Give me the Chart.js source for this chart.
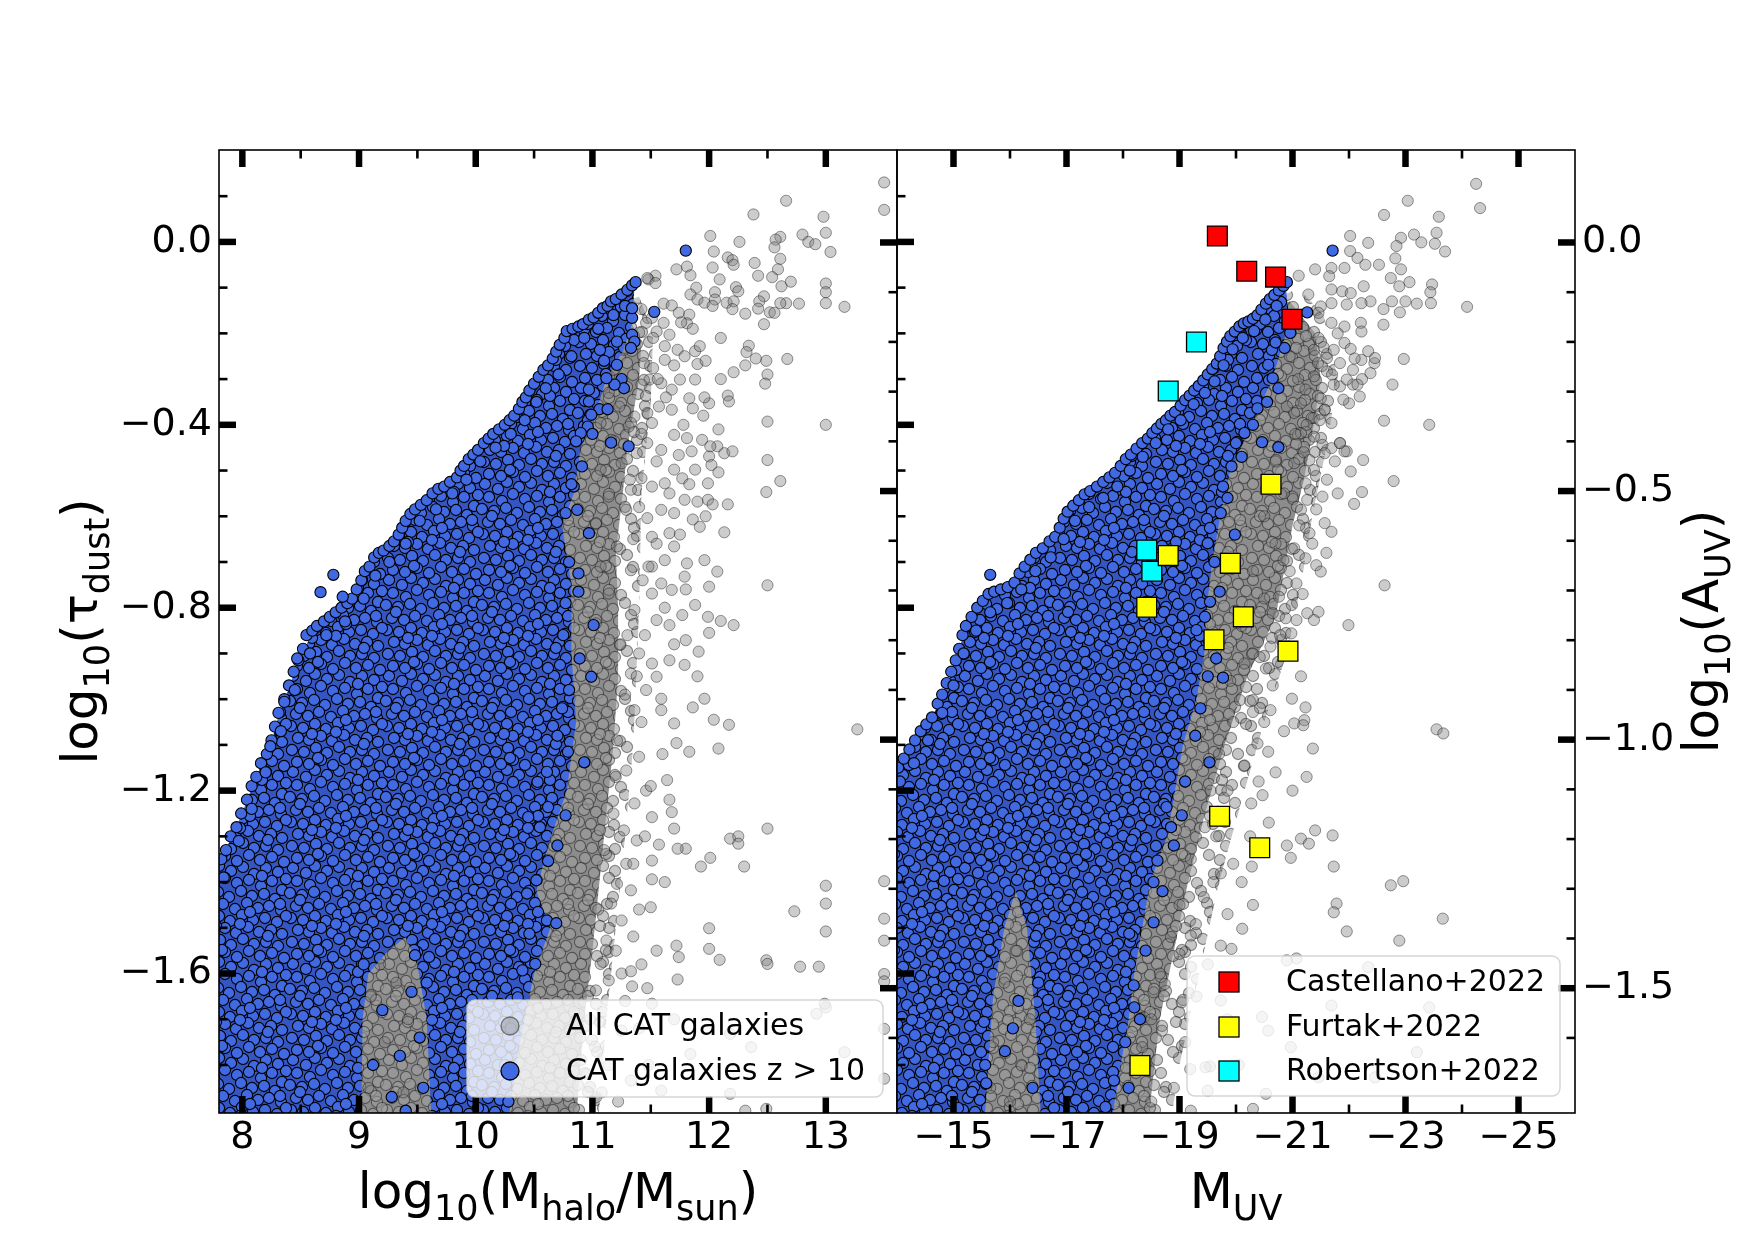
<!DOCTYPE html>
<html>
<head>
<meta charset="utf-8">
<script src="https://cdn.jsdelivr.net/npm/chart.js@4.4.1/dist/chart.umd.min.js"></script>
<style>
  html, body { margin: 0; padding: 0; background: #fff; }
  #wrap { position: relative; width: 1750px; height: 1250px; }
  #wrap canvas { position: absolute; left: 0; top: 0; }
</style>
</head>
<body>
<div id="wrap">
  <canvas id="halo" width="1750" height="1250"></canvas>
  <canvas id="muv" width="1750" height="1250"></canvas>
</div>
<script>
// ---- tick values ----
const haloTicks = [8, 9, 10, 11, 12, 13];
const haloMinor = [8.5, 9.5, 10.5, 11.5, 12.5];
const muvTicks = [-15, -17, -19, -21, -23, -25];
const muvMinor = [-16, -18, -20, -22, -24];
const tauTicks = [0, -0.4, -0.8, -1.2, -1.6];
const tauMinor = [0.1, -0.1, -0.2, -0.3, -0.5, -0.6, -0.7, -0.9, -1.0, -1.1, -1.3, -1.4, -1.5, -1.7, -1.8];
const auvTicks = [0, -0.5, -1.0, -1.5];
const auvMinor = [-0.1, -0.2, -0.3, -0.4, -0.6, -0.7, -0.8, -0.9, -1.1, -1.2, -1.3, -1.4, -1.6];

// ---- observations (flat x,y pairs) ----
// left panel: log10(Mhalo) vs log10(tau_dust)
// outline of the packed mass of z>10 points (too dense to read one by one)
const haloBlueCore = [7.78,-1.375, 7.90,-1.305, 7.99,-1.255, 8.08,-1.195, 8.16,-1.145, 8.25,-1.095, 8.31,-1.035, 8.36,-1.005, 8.44,-0.945, 8.52,-0.895, 8.60,-0.855, 8.75,-0.825, 8.85,-0.805, 8.94,-0.785, 9.02,-0.745, 9.09,-0.715, 9.17,-0.685, 9.26,-0.67, 9.34,-0.645, 9.40,-0.615,
  9.48,-0.59, 9.58,-0.57, 9.68,-0.545, 9.78,-0.53, 9.84,-0.52, 9.90,-0.495, 9.98,-0.47, 10.07,-0.445, 10.15,-0.425, 10.25,-0.405, 10.33,-0.385, 10.40,-0.355, 10.46,-0.33, 10.54,-0.30, 10.62,-0.275, 10.69,-0.245, 10.76,-0.215, 10.83,-0.195, 10.97,-0.175, 11.09,-0.15, 11.20,-0.13, 11.30,-0.11, 11.36,-0.10,
  11.34,-0.18, 11.26,-0.24, 11.12,-0.30, 11.02,-0.38, 10.90,-0.45, 10.84,-0.55, 10.74,-0.62, 10.82,-0.75, 10.82,-0.90, 10.86,-1.05, 10.78,-1.20, 10.62,-1.32, 10.52,-1.42, 10.64,-1.50, 10.50,-1.60, 10.38,-1.75, 10.28,-1.92,
  9.62,-1.92, 9.58,-1.70, 9.50,-1.58, 9.40,-1.52, 9.25,-1.55, 9.08,-1.60, 9.03,-1.70, 9.02,-1.92, 7.78,-1.92];
// outline of the packed mass of grey points, and of the looser grey fringe around it
const haloGrayCore = [11.30,-0.16, 11.42,-0.22, 11.40,-0.30, 11.30,-0.45, 11.26,-0.55, 11.20,-0.68, 11.22,-0.80, 11.22,-0.95, 11.18,-1.10, 11.12,-1.25, 11.06,-1.40, 11.00,-1.55, 10.93,-1.70, 10.86,-1.92, 8.95,-1.92, 8.95,-1.50, 9.50,-1.20, 10.20,-0.70, 10.80,-0.25];
const haloGrayMid = [11.40,-0.12, 11.52,-0.20, 11.50,-0.35, 11.42,-0.55, 11.40,-0.80, 11.35,-1.10, 11.28,-1.30, 11.20,-1.50, 11.12,-1.70, 11.05,-1.92, 10.60,-1.92, 10.60,-0.30, 11.00,-0.15];

const haloGrayPts = [
  13.50,0.13, 13.50,0.07, 12.66,0.09, 12.38,0.06, 12.98,0.055, 12.01,0.013, 12.26,0.0, 12.80,0.016, 12.61,0.011, 12.57,0.005, 12.85,0.0, 12.91,-0.005, 13.0,0.02, 13.04,-0.022, 12.04,-0.021, 12.16,-0.034, 12.2,-0.04, 12.21,-0.05, 12.56,-0.012, 12.61,-0.037,
  11.81,-0.054, 11.72,-0.06, 11.84,-0.073, 12.03,-0.056, 12.39,-0.046, 12.42,-0.074, 12.59,-0.06, 12.09,-0.082, 11.54,-0.074, 11.48,-0.082, 12.54,-0.077, 12.70,-0.087, 12.62,-0.097, 13.0,-0.091, 13.0,-0.11, 13.0,-0.134, 13.16,-0.142, 12.77,-0.135, 12.66,-0.134, 12.61,-0.134,
  12.47,-0.119, 12.43,-0.13, 12.42,-0.146, 12.52,-0.154, 12.56,-0.155, 11.89,-0.10, 11.84,-0.115, 11.90,-0.126, 11.96,-0.133, 12.05,-0.11, 12.05,-0.126, 12.03,-0.14, 12.15,-0.133, 12.21,-0.13, 12.20,-0.147, 12.23,-0.099, 12.25,-0.108, 12.31,-0.157, 12.47,-0.18, 12.49,-0.26,
  12.50,-0.29, 12.48,-0.31, 12.67,-0.256, 12.50,-0.393, 13.0,-0.40, 12.50,-0.477, 12.61,-0.523, 12.49,-0.547, 12.34,-0.227, 12.32,-0.241, 12.40,-0.255, 12.31,-0.27, 12.21,-0.285, 12.10,-0.30, 12.16,-0.336, 12.17,-0.349, 12.0,-0.353, 11.96,-0.34, 12.13,-0.462, 12.20,-0.458,
  12.07,-0.447, 12.0,-0.469, 12.02,-0.488, 12.08,-0.504, 11.99,-0.528, 11.99,-0.564, 11.9,-0.568, 12.03,-0.574, 12.16,-0.574, 12.13,-0.635, 12.07,-0.721, 12.0,-0.754, 12.50,-0.751,
  11.47,-0.079, 11.54,-0.09, 11.61,-0.135, 11.68,-0.139, 11.74,-0.155, 11.83,-0.159, 11.81,-0.178, 11.76,-0.176, 11.61,-0.177, 11.51,-0.166, 11.42,-0.147, 11.46,-0.177, 11.40,-0.198, 11.55,-0.196, 11.66,-0.203, 11.62,-0.228, 11.73,-0.236, 11.79,-0.25, 11.88,-0.239, 11.92,-0.228,
  11.90,-0.267, 11.62,-0.258, 11.52,-0.276, 11.44,-0.265, 11.49,-0.301, 11.42,-0.312, 11.59,-0.309, 11.68,-0.323, 11.75,-0.301, 11.88,-0.301, 11.83,-0.342, 11.86,-0.364, 11.68,-0.367, 11.57,-0.36, 11.47,-0.374, 11.36,-0.382, 11.31,-0.404, 11.51,-0.396, 11.70,-0.422, 11.81,-0.429,
  11.94,-0.433, 12.01,-0.447, 11.59,-0.455, 11.47,-0.44, 11.38,-0.462, 11.74,-0.466, 11.85,-0.458, 11.88,-0.498, 11.77,-0.517, 11.70,-0.498, 11.62,-0.528, 11.51,-0.535, 11.42,-0.517, 11.33,-0.542, 11.79,-0.564, 11.70,-0.593, 11.59,-0.586, 11.47,-0.604, 11.86,-0.607, 11.92,-0.623,
  11.66,-0.637, 11.51,-0.645, 11.70,-0.666, 11.62,-0.696, 11.81,-0.703, 11.96,-0.696, 11.51,-0.710, 11.79,-0.732, 11.59,-0.747, 11.68,-0.761, 11.51,-0.769, 11.88,-0.794, 11.99,-0.82, 12.10,-0.829, 12.21,-0.838, 11.77,-0.816, 11.66,-0.838, 11.55,-0.827,
  11.07,-0.25, 11.18,-0.28, 11.27,-0.236, 11.14,-0.33, 11.23,-0.36, 11.07,-0.396, 11.16,-0.433, 11.25,-0.484, 11.07,-0.498, 11.14,-0.557, 11.29,-0.586, 11.03,-0.615, 11.21,-0.666, 11.07,-0.71, 11.33,-0.718, 11.14,-0.769, 11.36,-0.805, 11.03,-0.834,
  11.21,-1.09, 11.36,-1.024, 11.46,-0.98, 11.33,-0.944, 11.51,-0.922, 11.55,-0.951, 11.40,-1.126, 11.29,-1.156, 11.46,-1.2, 11.36,-1.228, 11.27,-1.287, 11.38,-1.309, 11.29,-1.36, 11.21,-1.404, 11.33,-1.418, 11.16,-1.447, 11.25,-1.484, 11.12,-1.528, 11.2,-1.55, 11.07,-1.579,
  11.14,-1.615, 11.03,-1.637, 11.24,-0.88, 11.30,-0.86, 11.40,-0.90, 11.28,-0.99, 11.20,-1.17, 11.18,-1.25, 11.10,-1.33, 11.05,-1.46, 10.98,-1.70, 11.02,-1.76, 10.95,-1.82, 11.08,-1.86,
  11.52,-0.21, 11.70,-0.27, 11.86,-0.19, 11.97,-0.26, 12.10,-0.21, 11.63,-0.34, 11.78,-0.40, 11.95,-0.38, 12.08,-0.41, 11.42,-0.42, 11.55,-0.48, 11.66,-0.55, 11.83,-0.53, 11.97,-0.60, 11.40,-0.58, 11.55,-0.66, 11.75,-0.64, 11.43,-0.74, 11.62,-0.80, 11.80,-0.76,
  11.45,-0.86, 11.70,-0.88, 11.90,-0.95, 11.42,-1.05, 11.60,-1.12, 11.50,-1.19, 11.66,-1.22, 11.45,-1.30, 11.62,-1.40, 11.40,-1.46, 11.55,-1.55, 11.42,-1.58, 11.28,-1.66, 11.40,-1.72, 11.22,-1.88, 11.48,-1.80, 11.70,-1.70, 11.35,-0.65, 11.48,-0.71, 11.38,-0.95,
  11.35,-1.36, 11.25,-1.60, 11.32,-0.52, 11.56,-0.30,
  12.00,-0.855, 11.80,-0.871, 11.91,-0.896, 11.79,-0.925, 11.66,-0.915, 11.96,-0.999, 11.86,-1.018, 12.04,-1.045, 12.17,-1.056, 12.08,-1.108, 11.83,-1.115, 11.72,-1.096, 11.70,-1.053, 11.59,-1.024, 11.59,-0.999, 13.27,-1.066, 11.64,-1.177, 11.68,-1.247, 11.70,-1.283, 12.50,-1.283,
  12.18,-1.305, 12.25,-1.30, 12.25,-1.316, 12.01,-1.347, 11.93,-1.366, 12.30,-1.366, 11.80,-1.327, 11.73,-1.327, 11.57,-1.318, 11.51,-1.258, 11.51,-1.353, 13.50,-1.398, 13.0,-1.408, 13.0,-1.447, 13.0,-1.508, 12.73,-1.464, 13.50,-1.480, 13.50,-1.528, 12.0,-1.501, 12.0,-1.546,
  11.72,-1.539, 11.74,-1.564, 12.09,-1.570, 12.49,-1.571, 12.50,-1.579, 12.78,-1.585, 12.94,-1.585, 13.50,-1.601, 13.50,-1.617, 11.73,-1.613, 11.50,-1.455, 11.35,-1.519, 11.51,-1.394, 11.33,-1.595, 11.47,-1.632, 11.34,-1.628, 13.0,-1.674, 13.50,-1.721, 13.16,-1.772, 13.50,-1.830,
  12.49,-1.896, 12.31,-1.90, 11.59,-1.856, 12.18,-1.863, 12.36,-1.761, 12.92,-1.688, 12.99,-1.666, 11.51,-1.666, 11.84,-1.776, 11.25,-1.725, 11.14,-1.80, 11.33,-1.834, 11.03,-1.871, 12.18,-1.732,
  9.10,-1.65, 9.22,-1.75, 9.32,-1.62, 9.08,-1.85, 9.42,-1.70, 9.18,-1.58, 9.38,-1.86
];

const haloBluePts = [
  7.82,-1.35, 7.86,-1.33, 7.90,-1.30, 7.95,-1.28, 7.99,-1.25, 8.04,-1.22, 8.08,-1.19, 8.12,-1.17, 8.16,-1.14, 8.21,-1.12, 8.25,-1.09, 8.28,-1.06, 8.31,-1.03, 8.36,-1.00, 8.40,-0.97, 8.44,-0.94, 8.48,-0.915, 8.52,-0.89, 8.55,-0.86, 8.60,-0.85,
  8.64,-0.84, 8.70,-0.83, 8.75,-0.82, 8.80,-0.81, 8.85,-0.80, 8.90,-0.79, 8.94,-0.78, 8.98,-0.76, 9.02,-0.74, 9.05,-0.72, 9.09,-0.71, 9.13,-0.69, 9.17,-0.68, 9.21,-0.675, 9.26,-0.665, 9.30,-0.655, 9.34,-0.64, 9.37,-0.625, 9.40,-0.61, 9.44,-0.595,
  9.48,-0.585, 9.53,-0.575, 9.58,-0.565, 9.63,-0.55, 9.68,-0.54, 9.73,-0.535, 9.78,-0.525, 9.84,-0.515, 9.87,-0.50, 9.90,-0.49, 9.94,-0.475, 9.98,-0.465, 10.02,-0.455, 10.07,-0.44, 10.11,-0.43, 10.15,-0.42, 10.20,-0.41, 10.25,-0.40, 10.29,-0.39, 10.33,-0.38,
  10.37,-0.365, 10.40,-0.35, 10.43,-0.34, 10.46,-0.325, 10.50,-0.31, 10.54,-0.295, 10.58,-0.28, 10.62,-0.27, 10.66,-0.255, 10.69,-0.24, 10.72,-0.225, 10.76,-0.21, 10.78,-0.195, 10.83,-0.19, 10.88,-0.185, 10.92,-0.18, 10.97,-0.17, 11.01,-0.165, 11.05,-0.155, 11.09,-0.145,
  11.13,-0.14, 11.16,-0.13, 11.20,-0.125, 11.25,-0.115, 11.30,-0.105, 11.34,-0.095, 11.37,-0.088,
  11.80,-0.019, 8.78,-0.728, 8.67,-0.766, 8.86,-0.776, 8.47,-0.911, 8.36,-1.006, 8.24,-1.103,
  7.84,-1.39, 7.97,-1.31, 8.08,-1.24, 8.20,-1.16, 8.33,-1.07, 8.45,-0.98, 8.58,-0.90, 8.72,-0.86, 8.88,-0.83, 9.04,-0.78, 9.14,-0.73, 9.26,-0.70, 9.40,-0.66, 9.52,-0.61, 9.66,-0.585, 9.80,-0.55, 9.92,-0.52, 10.04,-0.48, 10.17,-0.45, 10.30,-0.42,
  10.42,-0.39, 10.52,-0.35, 10.60,-0.32, 10.71,-0.29, 10.82,-0.25, 10.93,-0.21, 11.05,-0.19, 11.18,-0.16, 11.28,-0.14,
  11.34,-0.166, 11.34,-0.145, 11.53,-0.153, 11.34,-0.203, 11.36,-0.218, 11.33,-0.232, 11.21,-0.218, 11.21,-0.269, 11.25,-0.30, 11.27,-0.32, 11.19,-0.312, 11.12,-0.298, 11.06,-0.366, 11.13,-0.366, 10.97,-0.323, 10.97,-0.349, 10.99,-0.378, 10.96,-0.404, 11.16,-0.439, 11.31,-0.447,
  10.90,-0.418, 10.86,-0.436, 10.91,-0.491, 10.84,-0.535, 10.87,-0.586, 10.77,-0.593, 10.97,-0.637, 10.88,-0.725, 10.88,-0.765, 10.77,-0.79, 11.01,-0.838, 10.89,-0.911, 10.99,-0.951, 10.74,-1.02, 10.79,-1.115, 10.93,-1.138, 10.61,-1.159, 10.53,-1.181, 10.62,-1.236, 10.77,-1.254,
  10.45,-1.258, 10.55,-1.28, 10.70,-1.32, 10.62,-1.354, 10.52,-1.396, 10.44,-1.425, 10.61,-1.484, 10.69,-1.49, 10.46,-1.513, 10.51,-1.579, 10.40,-1.593, 10.36,-1.652, 10.30,-1.72, 10.25,-1.80, 10.28,-1.88, 10.80,-0.70, 10.75,-0.86, 10.80,-0.98, 10.70,-1.08, 10.82,-0.53,
  11.00,-0.42, 11.10,-0.26,
  9.20,-1.68, 9.35,-1.78, 9.45,-1.64, 9.28,-1.87, 9.52,-1.74, 9.40,-1.90, 9.12,-1.80, 9.55,-1.85, 9.58,-1.62, 9.48,-1.56, 9.04,-1.58
];

// right panel: M_UV vs log10(tau_dust)
const muvBlueCore = [-13.95,-1.16, -14.12,-1.135, -14.32,-1.095, -14.52,-1.06, -14.72,-1.015, -14.88,-0.97, -15.04,-0.92, -15.16,-0.865, -15.32,-0.825, -15.52,-0.79, -15.72,-0.77, -15.96,-0.76, -16.08,-0.75, -16.26,-0.715, -16.46,-0.685, -16.70,-0.66, -16.88,-0.63, -17.02,-0.595, -17.22,-0.57, -17.42,-0.55,
  -17.65,-0.53, -17.86,-0.51, -18.05,-0.48, -18.24,-0.457, -18.44,-0.435, -18.60,-0.413, -18.76,-0.395, -18.92,-0.377, -19.10,-0.351, -19.26,-0.33, -19.42,-0.308, -19.58,-0.283, -19.72,-0.255, -19.84,-0.223, -19.98,-0.201, -20.14,-0.183, -20.30,-0.173, -20.45,-0.153, -20.60,-0.13, -20.76,-0.111, -20.88,-0.095,
  -20.94,-0.17, -20.84,-0.22, -20.64,-0.30, -20.28,-0.40, -19.90,-0.50, -19.72,-0.60, -19.58,-0.70, -19.48,-0.80, -19.44,-0.90, -19.30,-1.00, -19.06,-1.10, -18.92,-1.20, -18.78,-1.30, -18.48,-1.40, -18.34,-1.50, -18.20,-1.60, -18.10,-1.70, -17.96,-1.80, -17.80,-1.92,
  -16.55,-1.92, -16.45,-1.70, -16.30,-1.50, -16.10,-1.42, -15.90,-1.50, -15.70,-1.65, -15.55,-1.92, -13.95,-1.92];
const muvGrayCore = [-20.95,-0.13, -21.40,-0.20, -21.50,-0.30, -21.35,-0.42, -21.20,-0.52, -21.00,-0.62, -20.85,-0.72, -20.70,-0.82, -20.20,-0.95, -19.80,-1.10, -19.45,-1.25, -19.15,-1.40, -18.90,-1.55, -18.65,-1.70, -18.45,-1.92, -15.20,-1.92, -15.20,-1.40, -17.00,-0.80, -19.50,-0.40, -20.60,-0.15];
const muvGrayMid = [-21.10,-0.10, -21.55,-0.16, -21.80,-0.30, -21.60,-0.45, -21.35,-0.60, -21.15,-0.75, -20.90,-0.90, -20.50,-1.05, -20.15,-1.20, -19.70,-1.40, -19.35,-1.60, -19.00,-1.80, -18.85,-1.92, -17.50,-1.92, -17.50,-1.00, -19.50,-0.45, -20.80,-0.12];

const muvGrayPts = [
  -24.25,0.127, -24.32,0.074, -23.04,0.090, -22.62,0.059, -23.59,0.055, -23.55,0.020, -23.15,0.016, -22.92,0.009, -22.84,-0.009, -23.70,-0.021, -23.28,-0.001, -23.52,-0.004, -22.34,-0.002, -22.02,0.013, -22.02,-0.02, -22.15,-0.035, -22.29,-0.05, -22.82,-0.036, -22.92,-0.06, -22.53,-0.05,
  -23.07,-0.088, -22.89,-0.097, -22.74,-0.079, -23.47,-0.093, -23.44,-0.11, -24.09,-0.142, -23.45,-0.134, -23.2,-0.135, -23.0,-0.13, -22.76,-0.13, -22.9,-0.154, -22.61,-0.147, -22.61,-0.181, -22.97,-0.256, -22.77,-0.312, -22.62,-0.391, -23.42,-0.40, -22.79,-0.523, -22.23,-0.547, -22.09,-0.573,
  -22.63,-0.751, -22.03,-0.502, -22.25,-0.477, -21.84,-0.44, -21.96,-0.458, -21.69,-0.451, -21.57,-0.367, -21.38,-0.385, -22.0,-0.353, -22.19,-0.338, -22.23,-0.30, -22.38,-0.287, -22.07,-0.312, -21.84,-0.316, -22.45,-0.265,
  -21.40,-0.06, -21.11,-0.074, -21.69,-0.057, -21.65,-0.075, -21.92,-0.057, -21.69,-0.104, -21.88,-0.108, -22.03,-0.112, -22.26,-0.097, -22.38,-0.13, -22.22,-0.134, -21.96,-0.137, -21.69,-0.134, -21.5,-0.141, -21.46,-0.155, -21.69,-0.177, -21.92,-0.185, -22.21,-0.177, -22.22,-0.196, -21.92,-0.221,
  -21.73,-0.236, -21.46,-0.21, -21.38,-0.236, -21.61,-0.254, -22.03,-0.234, -22.34,-0.239, -22.46,-0.254, -22.22,-0.258, -21.84,-0.265, -21.61,-0.283, -21.38,-0.294, -21.73,-0.312, -21.96,-0.301, -22.07,-0.28, -22.15,-0.312, -21.23,-0.323, -21.15,-0.353, -21.5,-0.342, -21.57,-0.367, -21.69,-0.396,
  -21.34,-0.385, -21.03,-0.374, -21.15,-0.418, -21.38,-0.426, -21.53,-0.444, -21.84,-0.44, -21.92,-0.458, -21.57,-0.462, -21.30,-0.477, -21.03,-0.484, -21.38,-0.499, -21.61,-0.52, -21.23,-0.528, -21.0,-0.557, -21.26,-0.564, -21.15,-0.586, -21.53,-0.557, -21.57,-0.615, -21.69,-0.634, -21.30,-0.637,
  -21.03,-0.67, -20.84,-0.696, -21.23,-0.692, -21.42,-0.707, -21.5,-0.721, -21.07,-0.747, -20.76,-0.776, -20.99,-0.794, -20.65,-0.812, -20.88,-0.823, -21.07,-0.827, -21.26,-0.812, -21.46,-0.809, -21.99,-0.838, -21.38,-0.827,
  -20.98,-0.856, -20.61,-0.885, -20.42,-0.908, -20.15,-0.922, -20.53,-0.933, -20.30,-1.002, -21.21,-1.046, -20.99,-0.999, -21.23,-1.018, -20.61,-1.024, -21.03,-1.053, -21.19,-1.057, -21.36,-1.108, -20.57,-1.115, -20.38,-1.097, -20.30,-1.028, -20.07,-1.002, -20.15,-1.145, -20.47,-1.21, -20.27,-1.228,
  -23.55,-1.066, -23.67,-1.075, -21.40,-1.287, -21.71,-1.298, -21.15,-1.305, -21.29,-1.316, -20.97,-1.347, -21.73,-1.366, -22.74,-1.407, -22.96,-1.398, -21.78,-1.447, -21.73,-1.466, -23.66,-1.480, -21.96,-1.508, -22.89,-1.528, -20.11,-1.502, -19.73,-1.539, -19.92,-1.546, -20.28,-1.366, -19.73,-1.381,
  -19.43,-1.433, -19.29,-1.492, -19.20,-1.517, -19.0,-1.557, -18.74,-1.623, -19.04,-1.663,
  -22.34,-1.586, -21.69,-1.670, -23.42,-1.674, -20.97,-1.761, -20.57,-1.725, -21.46,-1.827, -22.46,-1.827, -23.2,-1.772, -20.46,-1.695, -19.73,-1.659, -19.54,-1.803, -20.53,-1.863, -18.54,-1.641, -18.37,-1.696, -18.34,-1.761, -18.69,-1.725, -19.19,-1.809, -19.46,-1.805, -19.50,-1.856, -20.30,-1.896,
  -20.90,-1.571, -21.07,-1.567,
  -20.95,-0.25, -21.10,-0.30, -20.90,-0.36, -21.05,-0.42, -20.70,-0.48, -20.85,-0.55, -20.50,-0.60, -20.70,-0.66, -20.30,-0.72, -20.50,-0.78, -20.10,-0.84, -20.30,-0.90, -19.90,-0.96, -19.95,-1.05, -19.70,-1.12, -19.55,-1.20, -19.45,-1.28, -19.20,-1.35, -19.00,-1.45, -18.85,-1.52,
  -18.65,-1.60, -18.50,-1.70, -18.40,-1.80, -18.50,-1.88, -19.85,-1.20, -19.65,-1.30, -19.60,-1.40,
  -21.28,-0.115, -21.55,-0.23, -21.80,-0.20, -22.10,-0.255, -21.70,-0.29, -21.45,-0.265, -21.90,-0.345, -21.25,-0.40, -21.48,-0.39, -21.75,-0.48, -21.20,-0.46, -21.42,-0.585, -21.80,-0.55, -21.12,-0.62, -21.35,-0.66, -21.60,-0.68, -20.95,-0.72, -21.18,-0.77, -20.78,-0.86, -20.95,-0.90,
  -21.15,-0.95, -20.65,-0.97, -20.85,-1.07, -20.50,-1.05, -20.70,-1.16, -20.40,-1.18, -20.58,-1.27, -20.25,-1.30, -20.10,-1.40, -19.95,-1.36, -19.85,-1.47, -20.30,-1.45, -19.50,-1.58, -19.30,-1.65, -19.10,-1.75, -19.85,-1.70, -18.90,-1.85, -19.20,-1.90, -20.05,-1.80, -21.25,-1.17,
  -21.00,-1.20, -20.90,-1.32,
  -15.70,-1.75, -15.90,-1.62, -16.10,-1.55, -16.20,-1.80, -16.00,-1.88, -16.35,-1.70, -15.65,-1.85
];

const muvBluePts = [
  -14.02,-1.15, -14.12,-1.13, -14.22,-1.11, -14.32,-1.09, -14.42,-1.07, -14.52,-1.055, -14.62,-1.04, -14.72,-1.01, -14.80,-0.99, -14.88,-0.965, -14.96,-0.94, -15.04,-0.915, -15.10,-0.89, -15.16,-0.86, -15.22,-0.84, -15.32,-0.82, -15.42,-0.80, -15.52,-0.785, -15.62,-0.77, -15.72,-0.765,
  -15.84,-0.76, -15.96,-0.755, -16.08,-0.745, -16.17,-0.725, -16.26,-0.71, -16.36,-0.695, -16.46,-0.68, -16.58,-0.67, -16.70,-0.655, -16.80,-0.645, -16.88,-0.625, -16.95,-0.605, -17.02,-0.59, -17.12,-0.577, -17.22,-0.565, -17.32,-0.552, -17.42,-0.545, -17.54,-0.535, -17.65,-0.525, -17.76,-0.515,
  -17.86,-0.505, -17.96,-0.49, -18.05,-0.475, -18.14,-0.465, -18.24,-0.452, -18.34,-0.44, -18.44,-0.43, -18.52,-0.418, -18.60,-0.408, -18.68,-0.398, -18.76,-0.39, -18.84,-0.38, -18.92,-0.372, -19.02,-0.358, -19.10,-0.346, -19.18,-0.336, -19.26,-0.325, -19.34,-0.315, -19.42,-0.303, -19.50,-0.29,
  -19.58,-0.278, -19.66,-0.266, -19.72,-0.25, -19.78,-0.232, -19.84,-0.218, -19.90,-0.206, -19.98,-0.196, -20.06,-0.185, -20.14,-0.178, -20.22,-0.174, -20.30,-0.168, -20.38,-0.16, -20.45,-0.148, -20.53,-0.135, -20.60,-0.125, -20.68,-0.116, -20.76,-0.106, -20.84,-0.096, -20.90,-0.088,
  -21.71,-0.019, -15.65,-0.728,
  -14.05,-1.18, -14.30,-1.14, -14.55,-1.09, -14.80,-1.03, -15.00,-0.97, -15.18,-0.90, -15.40,-0.85, -15.65,-0.81, -15.95,-0.79, -16.20,-0.76, -16.45,-0.72, -16.72,-0.69, -16.95,-0.65, -17.15,-0.61, -17.40,-0.58, -17.65,-0.56, -17.90,-0.535, -18.12,-0.50, -18.35,-0.47, -18.58,-0.44,
  -18.80,-0.41, -19.02,-0.39, -19.25,-0.355, -19.45,-0.33, -19.62,-0.305, -19.78,-0.27, -19.94,-0.235, -20.12,-0.21, -20.32,-0.195, -20.52,-0.17, -20.72,-0.14,
  -21.26,-0.154, -20.96,-0.199, -20.86,-0.232, -20.75,-0.32, -20.57,-0.269, -20.65,-0.298, -20.46,-0.438, -20.75,-0.449, -20.15,-0.418, -20.38,-0.364, -20.00,-0.44, -19.92,-0.491, -19.77,-0.535, -19.73,-0.593, -19.98,-0.64, -19.50,-0.659, -19.71,-0.765, -19.54,-0.787, -19.30,-0.849, -19.65,-0.911,
  -19.77,-0.953, -19.37,-1.02, -19.53,-1.138, -19.04,-1.254, -18.77,-1.236, -18.90,-1.32, -18.61,-1.353, -18.54,-1.40, -18.54,-1.488, -18.11,-1.513, -18.19,-1.626, -18.20,-1.674, -18.04,-1.75, -17.84,-1.834, -17.69,-1.892,
  -20.70,-0.22, -20.55,-0.35, -20.30,-0.40, -20.10,-0.47, -19.85,-0.56, -19.62,-0.70, -19.45,-0.82, -19.50,-0.95, -19.28,-1.08, -19.10,-1.18, -18.85,-1.28, -18.70,-1.42, -18.40,-1.55, -18.30,-1.70, -18.10,-1.85,
  -15.56,-1.80, -15.58,-1.84, -15.91,-1.77, -16.15,-1.66, -16.05,-1.72, -16.50,-1.62, -16.40,-1.85
];

// observed samples (M_UV, log10 tau)
const castellano = [-19.67,0.013, -20.19,-0.064, -20.70,-0.077, -20.99,-0.169];
const furtak = [-20.62,-0.530, -18.80,-0.686, -19.90,-0.703, -18.42,-0.799, -20.13,-0.820, -19.61,-0.870, -20.92,-0.895, -19.71,-1.256, -20.42,-1.325, -18.30,-1.801];
const robertson = [-19.30,-0.219, -18.80,-0.326, -18.42,-0.674, -18.51,-0.720];

// ---- style: layout of overlapping discs used to texture the packed regions ----
const tileSize = 96;
const tileDots = [[5,4],[18,9],[27,2],[39,7],[51,3],[62,10],[74,4],[86,8],[94,15],
  [9,17],[22,21],[33,14],[45,19],[57,16],[69,22],[80,17],[90,26],
  [2,29],[14,31],[26,28],[37,33],[49,27],[60,32],[72,30],[83,35],
  [8,42],[20,44],[31,40],[43,45],[55,39],[66,44],[77,42],[89,46],
  [3,54],[15,56],[27,52],[38,57],[50,51],[61,56],[73,54],[85,58],[94,52],
  [10,66],[21,68],[33,64],[44,69],[56,63],[67,68],[79,66],[90,70],
  [4,78],[16,80],[28,76],[39,81],[51,75],[62,80],[74,78],[86,82],
  [9,90],[21,92],[33,88],[45,93],[57,87],[68,92],[80,89],[92,94],
  [12,36],[48,60],[70,12],[30,86],[88,40],[58,48],[24,62],[76,72]];

const FONT = '"DejaVu Sans", sans-serif';
Chart.defaults.font.family = FONT;

function pts(a) {
  const out = [];
  for (let i = 0; i < a.length; i += 2) out.push({x: a[i], y: a[i + 1]});
  return out;
}
const minus = v => String(v).replace('-', '\u2212');

function discPattern(bg, fill, stroke, r, keep) {
  const S = tileSize, c = document.createElement('canvas');
  c.width = S; c.height = S;
  const g = c.getContext('2d');
  g.fillStyle = bg; g.fillRect(0, 0, S, S);
  g.lineWidth = 1.1; g.fillStyle = fill; g.strokeStyle = stroke;
  tileDots.forEach(([x, y], i) => {
    if (keep && !keep(i)) return;
    for (const dx of [-S, 0, S]) for (const dy of [-S, 0, S]) {
      const px = x + dx, py = y + dy;
      if (px < -r - 2 || px > S + r + 2 || py < -r - 2 || py > S + r + 2) continue;
      g.beginPath(); g.arc(px, py, r, 0, 2 * Math.PI); g.fill(); g.stroke();
    }
  });
  return g.createPattern(c, 'repeat');
}
const bluePattern = discPattern('#3556c0', '#4169E1', '#000', 5.6);
const grayPattern = discPattern('#8c8c8c', 'rgba(160,160,160,0.55)', 'rgba(35,35,35,0.55)', 5.6);
const grayLoosePattern = discPattern('#ffffff', 'rgba(128,128,128,0.45)', 'rgba(0,0,0,0.42)', 5.6, i => i % 3 !== 1);

function richText(ctx, parts, x, y, size, rot) {
  ctx.save();
  ctx.translate(x, y);
  if (rot) ctx.rotate(rot);
  const big = size + 'px ' + FONT, small = Math.round(size * 0.7) + 'px ' + FONT;
  let w = 0;
  for (const p of parts) { ctx.font = p[1] ? small : big; w += ctx.measureText(p[0]).width; }
  let cx = -w / 2;
  ctx.textAlign = 'left';
  ctx.textBaseline = 'alphabetic';
  ctx.fillStyle = '#000';
  for (const p of parts) {
    ctx.font = p[1] ? small : big;
    ctx.fillText(p[0], cx, p[1] ? size * 0.24 : 0);
    cx += ctx.measureText(p[0]).width;
  }
  ctx.restore();
}

function legendBox(ctx, x, y, w, h) {
  ctx.save();
  ctx.beginPath();
  ctx.roundRect(x, y, w, h, 8);
  ctx.fillStyle = 'rgba(255,255,255,0.8)';
  ctx.fill();
  ctx.strokeStyle = 'rgba(204,204,204,0.8)';
  ctx.lineWidth = 1.5;
  ctx.stroke();
  ctx.restore();
}

// inward ticks, spines, tick labels, titles, legend
function framePlugin(cfg) {
  return {
    id: 'frame',
    afterDraw(chart) {
      const ctx = chart.ctx, a = chart.chartArea;
      const xs = chart.scales.x, ys = chart.scales.y, as = chart.scales.auv;
      const line = (x1, y1, x2, y2, w) => {
        ctx.lineWidth = w; ctx.beginPath(); ctx.moveTo(x1, y1); ctx.lineTo(x2, y2); ctx.stroke();
      };
      ctx.save();
      ctx.strokeStyle = '#000';
      ctx.lineCap = 'butt';
      for (const v of cfg.xMajor) {
        const p = xs.getPixelForValue(v);
        line(p, a.top, p, a.top + 17, 6.5); line(p, a.bottom, p, a.bottom - 17, 6.5);
      }
      for (const v of cfg.xMinor) {
        const p = xs.getPixelForValue(v);
        line(p, a.top, p, a.top + 8.5, 2.6); line(p, a.bottom, p, a.bottom - 8.5, 2.6);
      }
      for (const v of tauTicks) { const p = ys.getPixelForValue(v); line(a.left, p, a.left + 17, p, 6.5); }
      for (const v of tauMinor) { const p = ys.getPixelForValue(v); line(a.left, p, a.left + 8.5, p, 2.6); }
      for (const v of auvTicks) { const p = as.getPixelForValue(v); line(a.right, p, a.right - 17, p, 6.5); }
      for (const v of auvMinor) { const p = as.getPixelForValue(v); line(a.right, p, a.right - 8.5, p, 2.6); }
      ctx.lineWidth = 1.6;
      ctx.strokeRect(a.left, a.top, a.right - a.left, a.bottom - a.top);

      ctx.fillStyle = '#000';
      ctx.font = '38px ' + FONT;
      ctx.textAlign = 'center';
      ctx.textBaseline = 'alphabetic';
      for (const v of cfg.xMajor) ctx.fillText(minus(v), xs.getPixelForValue(v), a.bottom + 35);
      ctx.textBaseline = 'middle';
      if (cfg.leftLabels) {
        ctx.textAlign = 'right';
        for (const v of tauTicks) ctx.fillText(minus(v.toFixed(1)), a.left - 7, ys.getPixelForValue(v));
      }
      if (cfg.rightLabels) {
        ctx.textAlign = 'left';
        for (const v of auvTicks) ctx.fillText(minus(v.toFixed(1)), a.right + 7, as.getPixelForValue(v));
      }
      const cxm = (a.left + a.right) / 2, cym = (a.top + a.bottom) / 2;
      richText(ctx, cfg.xTitle, cxm, 1208, 50, 0);
      if (cfg.yTitle) richText(ctx, cfg.yTitle, cfg.yTitleX, cym, 50, -Math.PI / 2);
      ctx.restore();
      cfg.legend(ctx);
    }
  };
}

const common = (xmin, xmax, rev, pad) => ({
  responsive: false,
  animation: false,
  devicePixelRatio: 1,
  events: [],
  layout: {padding: pad},
  plugins: {legend: {display: false}, tooltip: {enabled: false}},
  scales: {
    x: {type: 'linear', min: xmin, max: xmax, reverse: rev, display: false},
    y: {type: 'linear', min: -1.905, max: 0.201, display: false},
    auv: {type: 'linear', axis: 'y', position: 'right', min: -1.751, max: 0.186, display: false}
  }
});

const grayStyle = {backgroundColor: 'rgba(128,128,128,0.4)', borderColor: 'rgba(0,0,0,0.4)', borderWidth: 1, pointRadius: 5.6, clip: 0};
const blueStyle = {backgroundColor: '#4169E1', borderColor: '#000', borderWidth: 1.1, pointRadius: 5.6, clip: 0};
const coreStyle = c => ({type: 'line', fill: 'shape', backgroundColor: c, borderWidth: 0, pointRadius: 0, tension: 0, clip: 0});

new Chart(document.getElementById('halo'), {
  type: 'scatter',
  data: {datasets: [
    {...coreStyle(grayLoosePattern), data: pts(haloGrayMid), order: 6},
    {...coreStyle(grayPattern), data: pts(haloGrayCore), order: 5},
    {label: 'All CAT galaxies', ...grayStyle, data: pts(haloGrayPts), order: 4},
    {...coreStyle(bluePattern), data: pts(haloBlueCore), order: 3},
    {label: 'CAT galaxies z > 10', ...blueStyle, data: pts(haloBluePts), order: 2}
  ]},
  options: common(7.8, 13.61, false, {left: 219, top: 150, right: 1750 - 897, bottom: 1250 - 1113}),
  plugins: [framePlugin({
    xMajor: haloTicks, xMinor: haloMinor, leftLabels: true, rightLabels: false,
    xTitle: [['log', 0], ['10', 1], ['(M', 0], ['halo', 1], ['/M', 0], ['sun', 1], [')', 0]],
    yTitle: [['log', 0], ['10', 1], ['(\u03c4', 0], ['dust', 1], [')', 0]], yTitleX: 97,
    legend(ctx) {
      legendBox(ctx, 467, 1000, 416, 97);
      ctx.save();
      ctx.lineWidth = 1.3;
      ctx.beginPath(); ctx.arc(510, 1026, 9, 0, 2 * Math.PI);
      ctx.fillStyle = 'rgba(128,128,128,0.4)'; ctx.fill(); ctx.strokeStyle = 'rgba(0,0,0,0.45)'; ctx.stroke();
      ctx.beginPath(); ctx.arc(510, 1071, 9, 0, 2 * Math.PI);
      ctx.fillStyle = '#4169E1'; ctx.fill(); ctx.strokeStyle = '#000'; ctx.stroke();
      ctx.fillStyle = '#000'; ctx.font = '30px ' + FONT; ctx.textAlign = 'left'; ctx.textBaseline = 'middle';
      ctx.fillText('All CAT galaxies', 566, 1027);
      ctx.fillText('CAT galaxies z > 10', 566, 1072);
      ctx.restore();
    }
  })]
});

const squareStyle = c => ({backgroundColor: c, borderColor: '#000', borderWidth: 1.3, pointStyle: 'rect', pointRadius: 14, clip: 0});

new Chart(document.getElementById('muv'), {
  type: 'scatter',
  data: {datasets: [
    {...coreStyle(grayLoosePattern), data: pts(muvGrayMid), order: 6},
    {...coreStyle(grayPattern), data: pts(muvGrayCore), order: 5},
    {...grayStyle, data: pts(muvGrayPts), order: 4},
    {...coreStyle(bluePattern), data: pts(muvBlueCore), order: 3},
    {...blueStyle, data: pts(muvBluePts), order: 2},
    {label: 'Castellano+2022', ...squareStyle('#ff0000'), data: pts(castellano), order: 1},
    {label: 'Furtak+2022', ...squareStyle('#ffff00'), data: pts(furtak), order: 1},
    {label: 'Robertson+2022', ...squareStyle('#00ffff'), data: pts(robertson), order: 1}
  ]},
  options: common(-26, -14, true, {left: 897, top: 150, right: 1750 - 1575, bottom: 1250 - 1113}),
  plugins: [framePlugin({
    xMajor: muvTicks, xMinor: muvMinor, leftLabels: false, rightLabels: true,
    xTitle: [['M', 0], ['UV', 1]],
    yTitle: [['log', 0], ['10', 1], ['(A', 0], ['UV', 1], [')', 0]], yTitleX: 1718,
    legend(ctx) {
      legendBox(ctx, 1187, 956, 373, 140);
      ctx.save();
      const rows = [['Castellano+2022', '#ff0000', 982], ['Furtak+2022', '#ffff00', 1027], ['Robertson+2022', '#00ffff', 1071]];
      ctx.font = '30px ' + FONT; ctx.textAlign = 'left'; ctx.textBaseline = 'middle';
      for (const [t, c, y] of rows) {
        ctx.fillStyle = c; ctx.fillRect(1219, y - 10, 20, 20);
        ctx.strokeStyle = '#000'; ctx.lineWidth = 1.3; ctx.strokeRect(1219, y - 10, 20, 20);
        ctx.fillStyle = '#000'; ctx.fillText(t, 1286, y + 1);
      }
      ctx.restore();
    }
  })]
});
</script>
</body>
</html>
